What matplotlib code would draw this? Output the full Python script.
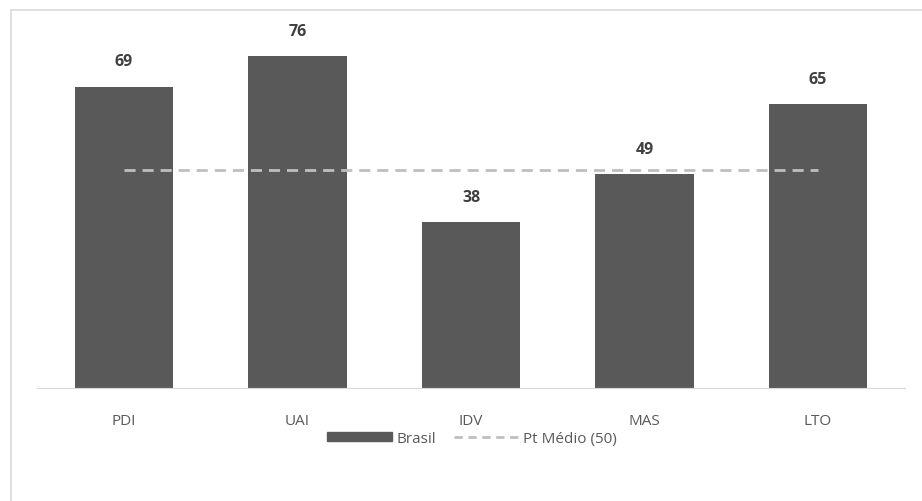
import matplotlib.pyplot as plt
from matplotlib.patches import Rectangle
from matplotlib.lines import Line2D

plt.rcParams['font.family'] = ['Open Sans', 'DejaVu Sans']

categorias = ['PDI', 'UAI', 'IDV', 'MAS', 'LTO']
brasil = [69, 76, 38, 49, 65]
pt_medio = 50

fig = plt.figure(figsize=(9.22, 5.02), dpi=100)

# moldura cinza clara do gráfico
fig.patches.append(Rectangle((11 / 922, -0.1), 1.2, (502 - 11) / 502 + 0.1,
                             transform=fig.transFigure, fill=False,
                             edgecolor='#D9D9D9', linewidth=1.2))

ax = fig.add_axes([0.0404, 0.2251, 0.9409, 0.7397])
x = range(len(categorias))
ax.bar(x, brasil, width=0.565, color='#595959', label='Brasil', zorder=2)
ax.plot(x, [pt_medio] * len(categorias), color='#BFBFBF', linestyle=(0, (4, 2.5)),
        linewidth=2, label='Pt Médio (50)', zorder=3)

for i, v in enumerate(brasil):
    ax.annotate(str(v), (i, v), xytext=(0, 12.5), textcoords='offset points',
                ha='center', va='bottom', fontsize=11.5, fontweight='bold',
                color='#404040')

ax.set_xlim(-0.5, 4.5)
ax.set_ylim(0, 85)
ax.set_xticks(list(x))
ax.set_xticklabels(categorias, fontsize=11, color='#595959')
ax.tick_params(axis='x', length=0, pad=18)
ax.set_yticks([])
for s in ['top', 'right', 'left']:
    ax.spines[s].set_visible(False)
ax.spines['bottom'].set_color('#D9D9D9')

handles = [Rectangle((0, 0), 1, 1, color='#595959'),
           Line2D([0], [0], color='#BFBFBF', linestyle=(0, (3, 2)), linewidth=2)]
fig.legend(handles, ['Brasil', 'Pt Médio (50)'], loc='center',
           bbox_to_anchor=(0.512, 0.125), ncol=2, frameon=False, fontsize=11,
           labelcolor='#595959', handlelength=4.2, handleheight=0.6,
           handletextpad=0.3, columnspacing=1.2)

fig.savefig('out.png', dpi=100)
